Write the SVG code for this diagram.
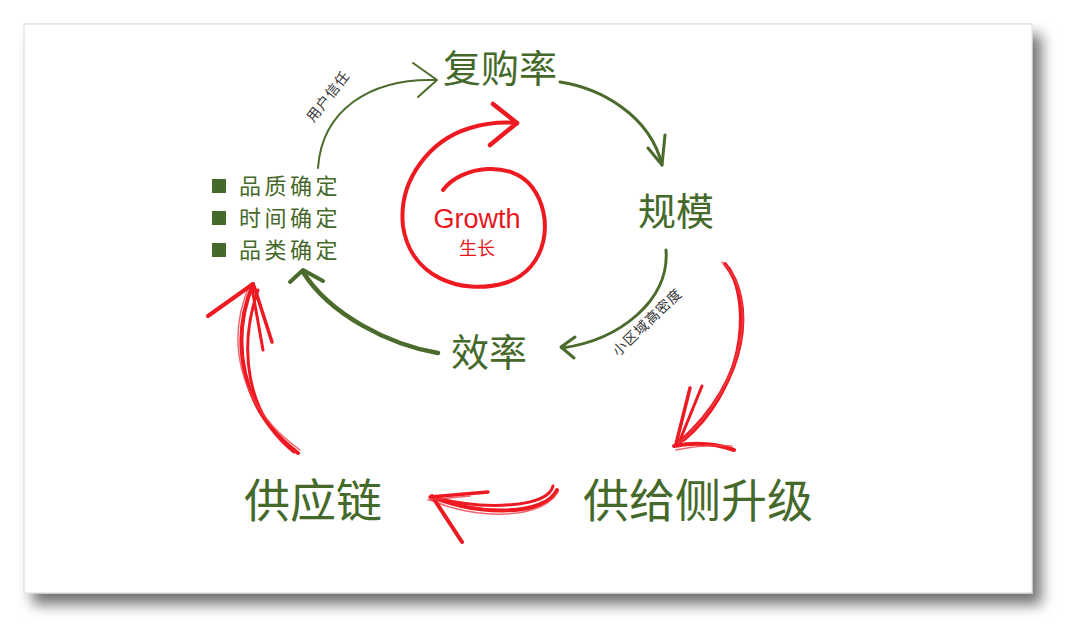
<svg xmlns="http://www.w3.org/2000/svg" width="1080" height="642" viewBox="0 0 1080 642">
<defs>
  <filter id="shadow" x="-5%" y="-5%" width="115%" height="120%">
    <feDropShadow dx="9" dy="11" stdDeviation="7" flood-color="#000" flood-opacity="0.55"/>
  </filter>
  <style>
    .t{font-family:"Noto Sans CJK SC","Liberation Sans",sans-serif;fill:#45692a}
    .small{font-family:"Noto Sans CJK SC","Liberation Sans",sans-serif;fill:#333;font-size:14px;letter-spacing:1px}
    .g{fill:none;stroke:#4a6b2c;stroke-linecap:round;stroke-linejoin:round}
    .r{fill:none;stroke:#ee1a22;stroke-linecap:round;stroke-linejoin:round}
    .rs{fill:none;stroke:#f04048;stroke-linecap:round;stroke-width:1.5;opacity:0.8}
  </style>
</defs>
<rect width="1080" height="642" fill="#fff"/>
<rect x="24" y="24" width="1008" height="569" fill="#fff" stroke="#d8d8d8" stroke-width="1" filter="url(#shadow)"/>

<g id="connectors">
  <g id="c-trust">
    <path class="g" stroke-width="2" stroke="#5f7d4c" d="M318,168 C322,110 370,78 436,80"/>
    <path class="g" stroke-width="2" stroke="#5f7d4c" d="M413,63 L437,80 L418,97"/>
  </g>
  <g id="c-repurchase-scale">
    <path class="g" stroke-width="3" d="M560,82 C600,88 650,115 662,165"/>
    <path class="g" stroke-width="3" d="M648,148 L662,165 L665,135"/>
  </g>
  <g id="c-scale-eff">
    <path class="g" stroke-width="3" d="M666,250 C670,300 620,340 562,348"/>
    <path class="g" stroke-width="3" d="M575,337 L561,347 L574,358"/>
  </g>
  <g id="c-eff-list">
    <path class="g" stroke-width="4.5" d="M438,353 C390,345 330,315 303,272"/>
    <path class="g" stroke-width="4" d="M290,282 L303,270 L323,281"/>
  </g>

  <g id="c-scale-supply">
    <path class="r" stroke-width="4" d="M725,264 C755,300 750,380 680,442"/>
    <path class="r" stroke-width="3" d="M729,268 C752,310 742,392 684,440"/>
    <path class="rs" d="M722,262 C760,296 746,386 677,445"/>
    <path class="r" stroke-width="3.5" d="M676,444 L690,388"/>
    <path class="r" stroke-width="3" d="M680,440 L702,386"/>
    <path class="r" stroke-width="4" d="M674,446 Q706,440 734,450"/>
    <path class="rs" d="M676,450 Q705,444 732,446"/>
  </g>
  <g id="c-supply-chain">
    <path class="r" stroke-width="4" d="M557,490 C545,516 480,516 432,497"/>
    <path class="r" stroke-width="3" d="M553,486 C548,508 484,510 436,498"/>
    <path class="rs" d="M558,492 C540,520 478,520 430,500"/>
    <path class="r" stroke-width="3.5" d="M430,497 L488,492"/>
    <path class="r" stroke-width="4" d="M432,496 L462,542"/>
    <path class="rs" d="M428,500 L470,496"/>
  </g>
  <g id="c-chain-list">
    <path class="r" stroke-width="4" d="M298,453 C240,410 230,340 253,284"/>
    <path class="r" stroke-width="3" d="M294,452 C246,414 238,348 258,290"/>
    <path class="rs" d="M300,450 C236,404 226,338 250,284"/>
    <path class="r" stroke-width="4" d="M253,284 L208,316"/>
    <path class="r" stroke-width="3.5" d="M254,286 L272,342"/>
    <path class="r" stroke-width="3" d="M252,288 L263,350"/>
  </g>
</g>

<g id="growth">
  <path class="r" stroke-width="4" d="M443,190 C462,165 512,160 532,187 C555,217 548,270 505,283 C460,296 410,276 403,226 C398,180 430,140 470,128 C490,122 505,122 517,123"/>
  <path class="r" stroke-width="4.5" d="M493,104 L517,123 L490,145"/>
  <text x="477" y="228" text-anchor="middle" font-family="Liberation Sans, Arial, sans-serif" font-size="27" fill="#e8161b">Growth</text>
  <text x="477" y="255" text-anchor="middle" font-family="Noto Sans CJK SC, sans-serif" font-size="18" fill="#e8161b">生长</text>
</g>

<g id="n-repurchase"><text class="t" x="500" y="82" font-size="38" text-anchor="middle">复购率</text></g>
<g id="n-scale"><text class="t" x="676" y="225" font-size="38" text-anchor="middle">规模</text></g>
<g id="n-efficiency"><text class="t" x="489" y="366" font-size="38" text-anchor="middle">效率</text></g>
<g id="n-list">
  <rect x="212" y="179" width="14" height="14" fill="#45692a"/>
  <rect x="212" y="211" width="14" height="14" fill="#45692a"/>
  <rect x="212" y="243" width="14" height="14" fill="#45692a"/>
  <text class="t" x="239" y="194" font-size="22" letter-spacing="3.5">品质确定</text>
  <text class="t" x="239" y="226" font-size="22" letter-spacing="3.5">时间确定</text>
  <text class="t" x="239" y="258" font-size="22" letter-spacing="3.5">品类确定</text>
</g>
<g id="n-supplychain"><text class="t" x="313" y="517" font-size="46" text-anchor="middle">供应链</text></g>
<g id="n-supplyside"><text class="t" x="698" y="517" font-size="46" text-anchor="middle">供给侧升级</text></g>

<g id="labels">
  <text class="small" transform="translate(329,97) rotate(-52)" text-anchor="middle" dominant-baseline="middle">用户信任</text>
  <text class="small" transform="translate(648,323) rotate(-44)" text-anchor="middle" dominant-baseline="middle">小区域高密度</text>
</g>
</svg>
